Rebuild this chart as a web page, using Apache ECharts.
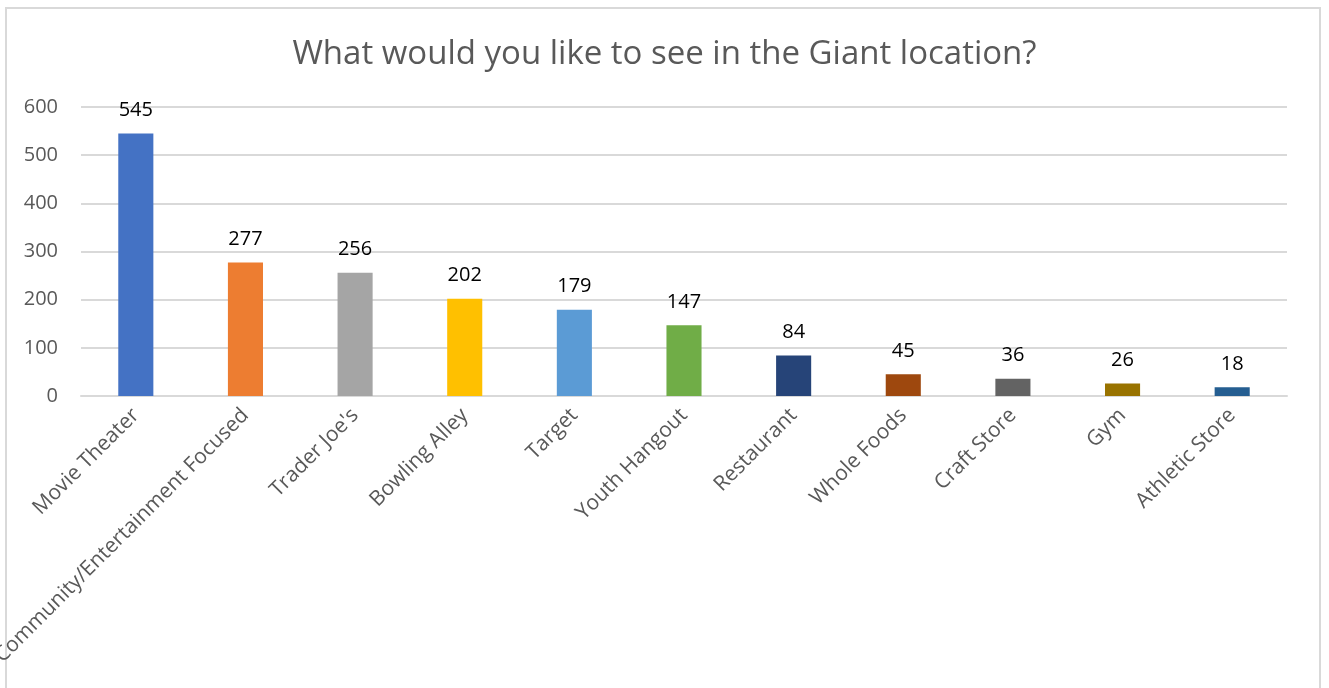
<!DOCTYPE html>
<html>
<head>
<meta charset="utf-8">
<script src="https://cdn.jsdelivr.net/npm/echarts@6/dist/echarts.min.js"></script>
<style>
html,body{margin:0;padding:0;background:#fff;}
#chart{width:1329px;height:688px;}
</style>
</head>
<body>
<div id="chart"></div>
<script>
const titleText = "What would you like to see in the Giant location?";
const categories = ["Movie Theater","Community/Entertainment Focused","Trader Joe's","Bowling Alley","Target","Youth Hangout","Restaurant","Whole Foods","Craft Store","Gym","Athletic Store"];
const values = [545, 277, 256, 202, 179, 147, 84, 45, 36, 26, 18];
const colors = ["#4472C4","#ED7D31","#A5A5A5","#FFC000","#5B9BD5","#70AD47","#264478","#9E480E","#636363","#997300","#255E91"];
const yTicks = [0, 100, 200, 300, 400, 500, 600];

const font = "'Open Sans', Lato, sans-serif";
const chart = echarts.init(document.getElementById('chart'));
chart.setOption({
  animation: false,
  textStyle: { fontFamily: font },
  graphic: [{
    type: 'rect', silent: true, z: -1,
    shape: { x: 6, y: 8, width: 1314, height: 700 },
    style: { fill: 'none', stroke: '#d9d9d9', lineWidth: 2 }
  }],
  title: {
    text: titleText, left: 'center', top: 33,
    textStyle: { fontFamily: font, fontSize: 33, fontWeight: 'normal', color: '#595959' }
  },
  grid: { left: 81, right: 42, top: 107, bottom: 292, containLabel: false, outerBoundsMode: 'none' },
  xAxis: {
    type: 'category', data: categories,
    axisLine: { lineStyle: { color: '#d9d9d9', width: 2 } },
    axisTick: { show: false },
    axisLabel: { rotate: 45, interval: 0, fontSize: 21, color: '#595959', margin: 16, fontFamily: font }
  },
  yAxis: {
    type: 'value', min: yTicks[0], max: yTicks[yTicks.length - 1], interval: 100,
    axisLine: { show: false }, axisTick: { show: false },
    splitLine: { lineStyle: { color: '#d9d9d9', width: 2 } },
    axisLabel: { fontSize: 20, color: '#595959', margin: 23, fontFamily: font }
  },
  series: [{
    type: 'bar', data: values.map((v, i) => ({ value: v, itemStyle: { color: colors[i] } })),
    barWidth: '32%',
    label: { show: true, position: 'top', distance: 13, fontSize: 20, color: '#000', fontFamily: font }
  }]
});
</script>
</body>
</html>
